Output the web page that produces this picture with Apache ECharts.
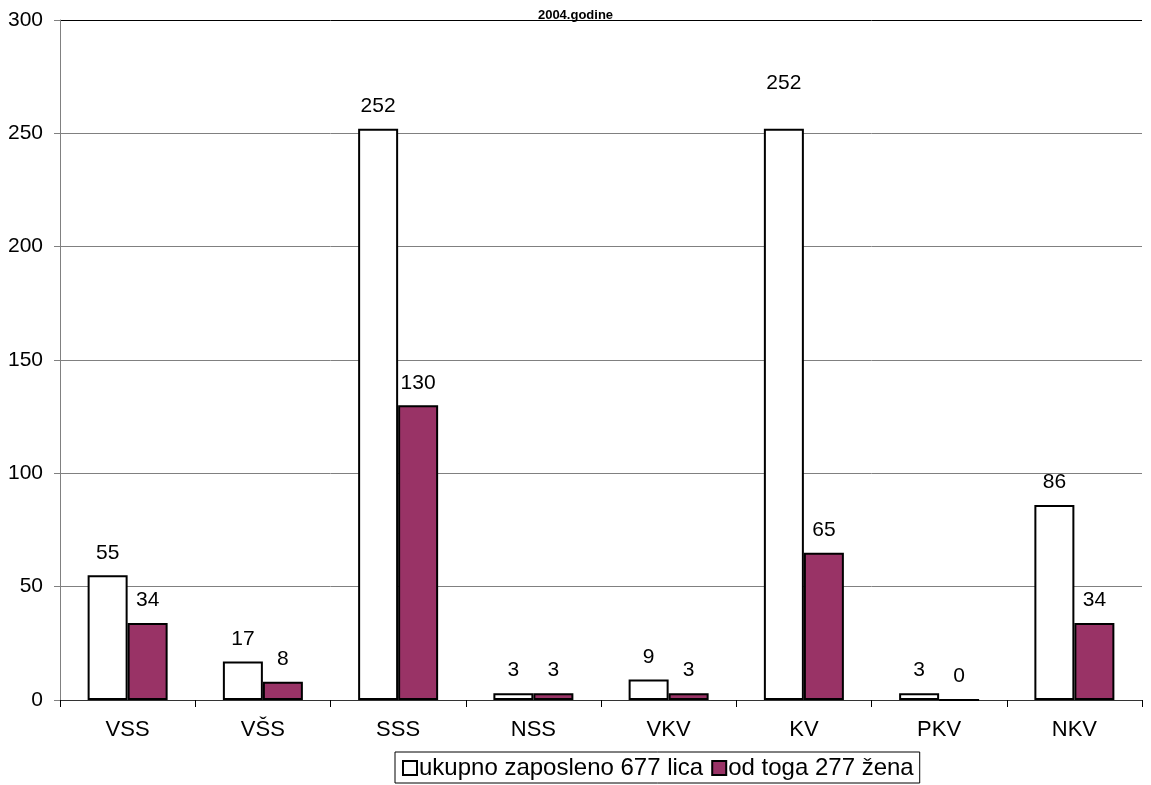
<!DOCTYPE html>
<html><head><meta charset="utf-8">
<script src="https://cdn.jsdelivr.net/npm/echarts@6/dist/echarts.min.js"></script>
<style>html,body{margin:0;padding:0;background:#fff}#c{width:1151px;height:785px}</style>
</head><body><div id="c"></div>
<script>
const categories = ['VSS','VŠS','SSS','NSS','VKV','KV','PKV','NKV'];
const totalValues = [55,17,252,3,9,252,3,86];
const womenValues = [34,8,130,3,3,65,0,34];
const seriesNames = ['ukupno zaposleno 677 lica','od toga 277 žena'];
const titleText = '2004.godine';

const font = 'Liberation Sans, Arial, sans-serif';
const chart = echarts.init(document.getElementById('c'));
const labelStyle = {show:true, position:'top', color:'#000', fontSize:21, fontFamily:font, distance:12};
chart.setOption({
  animation:false,
  title:{text:titleText, left:'center', top:4, textStyle:{fontSize:13, fontWeight:'bold', color:'#000', fontFamily:font}},
  legend:{top:752, left:395, itemWidth:14, itemHeight:14, itemGap:8, padding:[4,6,3,7],
    borderColor:'#000', borderWidth:1, icon:'rect',
    textStyle:{fontSize:24, color:'#000', fontFamily:font, padding:[0,0,0,-3]}},
  grid:{left:60, right:9, top:20, bottom:85},
  xAxis:{type:'category', data:categories,
    axisLine:{lineStyle:{color:'#333', width:1}}, axisTick:{show:true, length:7, lineStyle:{color:'#000'}},
    axisLabel:{fontSize:22, color:'#000', fontFamily:font, margin:19}},
  yAxis:{type:'value', min:0, max:300, interval:50,
    axisLine:{show:true, lineStyle:{color:'#808080'}}, axisTick:{show:true, length:6, lineStyle:{color:'#808080'}},
    splitLine:{lineStyle:{color:['#808080','#808080','#808080','#808080','#808080','#808080','#000']}},
    axisLabel:{fontSize:21, color:'#000', fontFamily:font, margin:17}},
  series:[
    {name:seriesNames[0], type:'bar', barWidth:40, barGap:'0%',
     itemStyle:{color:'#fff', borderColor:'#000', borderWidth:2},
     label:labelStyle,
     data: totalValues.map((v,i)=> categories[i]==='KV' ? {value:v, label:{offset:[0,-23]}} : v)},
    {name:seriesNames[1], type:'bar', barWidth:40,
     itemStyle:{color:'#993366', borderColor:'#000', borderWidth:2},
     label:labelStyle, data: womenValues}
  ]
});
</script></body></html>
